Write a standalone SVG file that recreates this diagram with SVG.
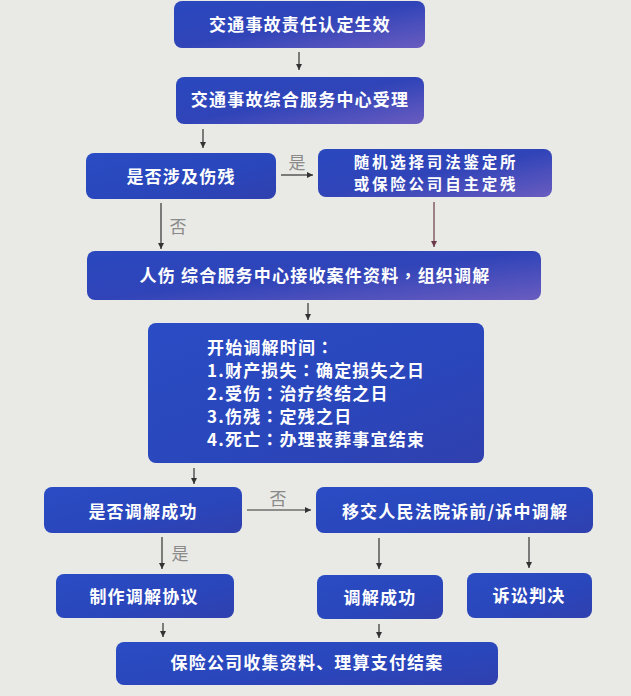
<svg xmlns="http://www.w3.org/2000/svg" width="631" height="696" viewBox="0 0 631 696">
<defs>
<linearGradient id="gp" x1="0" y1="0" x2="1" y2="1">
<stop offset="0" stop-color="#2a48bf"/>
<stop offset="0.5" stop-color="#3044b8"/>
<stop offset="1" stop-color="#6a5cc0"/>
</linearGradient>
<linearGradient id="gb" x1="0" y1="0" x2="1" y2="1">
<stop offset="0" stop-color="#2a4cc4"/>
<stop offset="0.6" stop-color="#2a46bb"/>
<stop offset="1" stop-color="#3040ae"/>
</linearGradient>
<marker id="ah" markerUnits="userSpaceOnUse" markerWidth="7" markerHeight="6" refX="6" refY="3" orient="auto">
<path d="M0,0 L6,3 L0,6 z" fill="#333"/>
</marker>
<marker id="ahr" markerUnits="userSpaceOnUse" markerWidth="7" markerHeight="6" refX="6" refY="3" orient="auto">
<path d="M0,0 L6,3 L0,6 z" fill="#6b3a4a"/>
</marker>
</defs>
<style>
.bp{fill:url(#gp);}
.bb{fill:url(#gb);}
.t{font-family:"Noto Sans CJK SC","Noto Sans",sans-serif;font-weight:bold;font-size:17px;fill:#ffffff;letter-spacing:1.2px;}
.s{font-size:15.5px;letter-spacing:2.8px;}
.c{text-anchor:middle;}
.p{font-family:"Noto Sans CJK TC","Noto Sans CJK SC",sans-serif;}
.lab{font-family:"Noto Sans CJK SC","Noto Sans",sans-serif;font-size:17px;fill:#8a8a8a;text-anchor:middle;}
.ln{stroke:#333;stroke-width:1.2;fill:none;marker-end:url(#ah);}
.lr{stroke:#6b3a4a;stroke-width:1.2;fill:none;marker-end:url(#ahr);}
</style>
<rect x="0" y="0" width="631" height="696" fill="#e9eae5"/>

<g id="n1"><rect class="bp" x="174" y="1" width="251" height="47" rx="8"/><text class="t c" x="300" y="31">交通事故责任认定生效</text></g>
<g id="n2"><rect class="bp" x="176" y="77" width="248" height="47" rx="8"/><text class="t c" x="300" y="106">交通事故综合服务中心受理</text></g>
<g id="n3"><rect class="bb" x="86" y="153" width="190" height="46" rx="8"/><text class="t c" x="181" y="183">是否涉及伤残</text></g>
<g id="n4"><rect class="bp" x="318" y="149" width="234" height="48" rx="8"/><text class="t s c" x="436" y="167.5">随机选择司法鉴定所</text><text class="t s c" x="436" y="190">或保险公司自主定残</text></g>
<g id="n5"><rect class="bp" x="87" y="251" width="454" height="49" rx="8"/><text class="t c" x="315" y="282">人伤 综合服务中心接收案件资料<tspan class="p">，</tspan>组织调解</text></g>
<g id="n6"><rect class="bb" x="148" y="323" width="336" height="140" rx="8"/>
<text class="t" x="207" y="354">开始调解时间<tspan class="p">：</tspan></text>
<text class="t" x="207" y="377">1.财产损失<tspan class="p">：</tspan>确定损失之日</text>
<text class="t" x="207" y="400">2.受伤<tspan class="p">：</tspan>治疗终结之日</text>
<text class="t" x="207" y="423">3.伤残<tspan class="p">：</tspan>定残之日</text>
<text class="t" x="207" y="446">4.死亡<tspan class="p">：</tspan>办理丧葬事宜结束</text></g>
<g id="n7"><rect class="bb" x="44" y="487" width="198" height="46" rx="8"/><text class="t c" x="143" y="518">是否调解成功</text></g>
<g id="n8"><rect class="bb" x="316" y="487" width="277" height="46" rx="8"/><text class="t c" x="455" y="518">移交人民法院诉前/诉中调解</text></g>
<g id="n9"><rect class="bb" x="56" y="574" width="178" height="44" rx="8"/><text class="t c" x="144" y="603">制作调解协议</text></g>
<g id="n10"><rect class="bb" x="317" y="575" width="126" height="44" rx="8"/><text class="t c" x="380" y="604">调解成功</text></g>
<g id="n11"><rect class="bb" x="467" y="573" width="125" height="45" rx="8"/><text class="t c" x="529" y="602">诉讼判决</text></g>
<g id="n12"><rect class="bb" x="116" y="642" width="382" height="43" rx="8"/><text class="t c" x="307" y="669">保险公司收集资料、理算支付结案</text></g>

<g id="connectors">
<line class="ln" x1="299" y1="52" x2="299" y2="70"/>
<line class="ln" x1="203" y1="129" x2="203" y2="148"/>
<line class="ln" x1="281" y1="175" x2="313" y2="175"/>
<line class="ln" x1="161" y1="203" x2="161" y2="249"/>
<line class="lr" x1="434" y1="202" x2="434" y2="247"/>
<line class="ln" x1="308" y1="303" x2="308" y2="320"/>
<line class="ln" x1="194" y1="468" x2="194" y2="484"/>
<line class="ln" x1="247" y1="510" x2="311" y2="510"/>
<line class="ln" x1="162" y1="537" x2="162" y2="569"/>
<line class="ln" x1="379" y1="538" x2="379" y2="569"/>
<line class="ln" x1="529" y1="537" x2="529" y2="568"/>
<line class="ln" x1="163" y1="623" x2="163" y2="637"/>
<line class="ln" x1="379" y1="624" x2="379" y2="638"/>
<text class="lab" x="297" y="169">是</text>
<text class="lab" x="178" y="233">否</text>
<text class="lab" x="278" y="505">否</text>
<text class="lab" x="180" y="560">是</text>
</g>
</svg>
